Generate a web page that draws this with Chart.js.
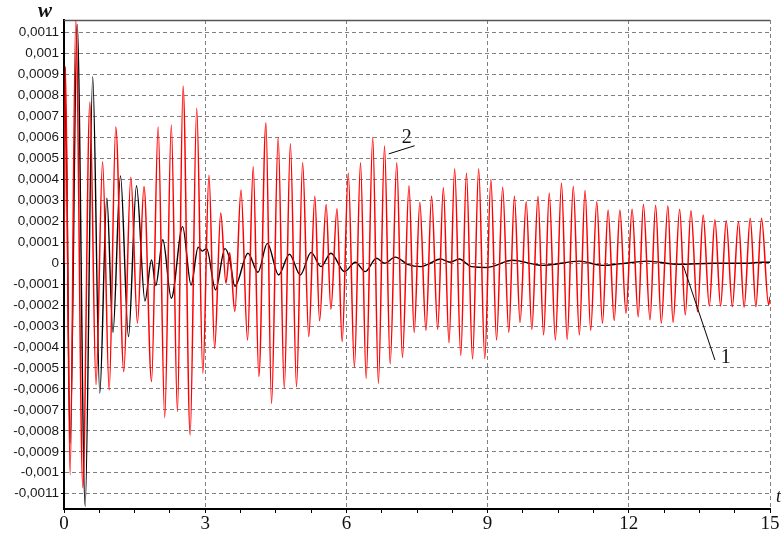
<!DOCTYPE html>
<html><head><meta charset="utf-8">
<script src="https://cdn.jsdelivr.net/npm/chart.js@4/dist/chart.umd.min.js"></script>
<style>html,body{margin:0;padding:0;background:#fff}#wrap{position:relative;width:781px;height:535px}</style>
</head><body><div id="wrap"><canvas id="c" width="781" height="535"></canvas></div>
<script>
// Series 2 (red): time of each extremum and value
const redT = [0,0.03,0.13,0.25,0.40,0.55,0.68,0.82,0.96,1.10,1.27,1.42,1.56,1.70,1.86,2.00,2.14,2.28,2.41,2.53,2.68,2.82,2.95,3.08,3.20,3.33,3.44,3.52,3.63,3.76,3.90,4.02,4.14,4.29,4.41,4.55,4.68,4.81,4.94,5.07,5.20,5.33,5.43,5.57,5.67,5.80,5.91,6.04,6.17,6.30,6.42,6.56,6.68,6.81,6.93,7.07,7.19,7.33,7.44,7.56,7.69,7.81,7.94,8.06,8.18,8.30,8.43,8.55,8.68,8.81,8.94,9.07,9.19,9.32,9.45,9.57,9.69,9.82,9.94,10.07,10.19,10.31,10.44,10.57,10.69,10.82,10.95,11.07,11.19,11.32,11.44,11.56,11.69,11.81,11.94,12.07,12.20,12.31,12.45,12.57,12.69,12.83,12.94,13.08,13.20,13.32,13.46,13.58,13.71,13.83,13.95,14.07,14.20,14.33,14.45,14.58,14.70,14.82,14.97,15.00];
const redW = [0,9.4e-4,-10.1e-4,11.6e-4,-10.7e-4,7.7e-4,-5.8e-4,4.85e-4,-6.05e-4,6.5e-4,-5.17e-4,4.1e-4,-2.85e-4,3.66e-4,-5.65e-4,6.5e-4,-7.37e-4,6.6e-4,-7.08e-4,8.46e-4,-8.2e-4,7.4e-4,-5.25e-4,4.2e-4,-4.06e-4,2.4e-4,-0.95e-4,0.5e-4,-2.3e-4,3.5e-4,-3.66e-4,4.6e-4,-5.4e-4,6.7e-4,-6.7e-4,6.0e-4,-5.97e-4,5.7e-4,-5.9e-4,4.8e-4,-3.5e-4,3.2e-4,-2.75e-4,2.8e-4,-2.2e-4,2.6e-4,-3.74e-4,4.3e-4,-4.96e-4,4.8e-4,-5.5e-4,6.0e-4,-5.73e-4,5.6e-4,-4.8e-4,4.8e-4,-4.5e-4,3.7e-4,-3.3e-4,2.9e-4,-3.2e-4,3.2e-4,-3.15e-4,3.6e-4,-3.8e-4,4.5e-4,-4.4e-4,4.3e-4,-4.57e-4,4.5e-4,-4.55e-4,4.0e-4,-3.66e-4,3.63e-4,-3.3e-4,3.2e-4,-2.83e-4,2.93e-4,-3.15e-4,3.18e-4,-3.42e-4,3.34e-4,-3.66e-4,3.82e-4,-3.63e-4,3.66e-4,-3.42e-4,3.47e-4,-3.2e-4,2.94e-4,-2.87e-4,2.54e-4,-2.74e-4,2.54e-4,-2.39e-4,2.58e-4,-2.55e-4,2.82e-4,-2.7e-4,2.77e-4,-2.87e-4,2.75e-4,-2.83e-4,2.58e-4,-2.47e-4,2.51e-4,-2.31e-4,2.3e-4,-2.04e-4,2.07e-4,-2.04e-4,2.03e-4,-2.07e-4,1.99e-4,-2.1e-4,2.15e-4,-2.07e-4,2.15e-4,-1.99e-4,-1.6e-4];
// Series 1 (black)
const blackT = [0,0.03,0.13,0.28,0.45,0.61,0.76,0.91,1.04,1.20,1.37,1.54,1.72,1.86,1.95,2.10,2.28,2.52,2.70,2.85,2.94,3.03,3.22,3.42,3.52,3.63,3.91,4.12,4.32,4.56,4.79,5.02,5.25,5.46,5.67,5.96,6.19,6.40,6.64,6.81,7.04,7.30,7.59,7.73,8.00,8.20,8.40,8.65,9.00,9.11,9.53,10.17,10.95,11.44,11.80,12.40,13.07,13.78,14.49,14.83,15.0];
const blackW = [0,8.0e-4,-8.6e-4,11.4e-4,-11.6e-4,8.9e-4,-6.2e-4,3.1e-4,-3.3e-4,4.17e-4,-3.5e-4,3.7e-4,-1.8e-4,0.16e-4,-1.06e-4,1.12e-4,-1.67e-4,1.75e-4,-1.04e-4,0.76e-4,0.58e-4,0.7e-4,-1.27e-4,0.7e-4,0.2e-4,-1.1e-4,0.48e-4,-0.43e-4,0.95e-4,-0.56e-4,0.43e-4,-0.56e-4,0.52e-4,-0.16e-4,0.48e-4,-0.4e-4,0.05e-4,-0.4e-4,0.24e-4,0,0.29e-4,-0.05e-4,-0.16e-4,-0.05e-4,0.2e-4,0.05e-4,0.2e-4,-0.16e-4,-0.2e-4,-0.15e-4,0.14e-4,-0.1e-4,0.1e-4,-0.1e-4,-0.03e-4,0.1e-4,-0.05e-4,0,0,0.05e-4,0.05e-4];
// Axis ticks
const yTickValues = [-0.0011,-0.001,-0.0009,-0.0008,-0.0007,-0.0006,-0.0005,-0.0004,-0.0003,-0.0002,-0.0001,0,0.0001,0.0002,0.0003,0.0004,0.0005,0.0006,0.0007,0.0008,0.0009,0.001,0.0011];
const xTickValues = [0,0.75,1.5,2.25,3,3.75,4.5,5.25,6,6.75,7.5,8.25,9,9.75,10.5,11.25,12,12.75,13.5,14.25,15];
const xLabelValues = [0,3,6,9,12,15];
const xGridValues = [3,6,9,12,15];
const yMin = -0.001173, yMax = 0.001161;
// Curve labels with leader lines (data coordinates)
const curveLabels = [
  {text:'2', t:7.28, w:0.000598, from:[6.90,0.000522], to:[7.45,0.000561]},
  {text:'1', t:14.06, w:-0.000449, from:[13.16,-0.000013], to:[13.83,-0.000462]}
];

const framePlugin = {
  id:'frame',
  beforeDatasetsDraw(chart){
    const {ctx, chartArea:a} = chart;
    ctx.save();
    ctx.strokeStyle='#555'; ctx.lineWidth=1.5;
    ctx.beginPath(); ctx.moveTo(a.left, a.top+0.5); ctx.lineTo(a.right, a.top+0.5); ctx.stroke();
    ctx.restore();
  },
  afterDraw(chart){
    const {ctx, scales:{x,y}} = chart;
    ctx.save();
    ctx.fillStyle='#111';
    ctx.font='italic bold 21px "Liberation Serif"';
    ctx.textAlign='center'; ctx.textBaseline='middle';
    ctx.fillText('w', 45, 12);
    ctx.font='italic 18px "Liberation Serif"';
    ctx.textAlign='left';
    ctx.fillText('t', 776, 497);
    ctx.font='20px "Liberation Serif"';
    ctx.strokeStyle='#000'; ctx.lineWidth=1;
    curveLabels.forEach(l=>{
      ctx.beginPath();
      ctx.moveTo(x.getPixelForValue(l.from[0]), y.getPixelForValue(l.from[1]));
      ctx.lineTo(x.getPixelForValue(l.to[0]), y.getPixelForValue(l.to[1]));
      ctx.stroke();
      ctx.fillText(l.text, x.getPixelForValue(l.t)-5, y.getPixelForValue(l.w));
    });
    ctx.restore();
  }
};

new Chart(document.getElementById('c').getContext('2d'), {
  type:'line',
  data:{datasets:[
    {label:'2', data: redT.map((t,i)=>({x:t,y:redW[i]})), borderColor:'#ff0000', borderWidth:1.5, pointRadius:0, cubicInterpolationMode:'monotone', order:0},
    {label:'1', data: blackT.map((t,i)=>({x:t,y:blackW[i]})), borderColor:'#000000', borderWidth:1.4, pointRadius:0, cubicInterpolationMode:'monotone', order:1}
  ]},
  options:{
    responsive:false, animation:false, devicePixelRatio:1,
    layout:{padding:{top:20,right:11,left:0,bottom:0}},
    plugins:{legend:{display:false}, tooltip:{enabled:false}},
    scales:{
      x:{type:'linear', min:0, max:15,
        afterBuildTicks:s=>{s.ticks = xTickValues.map(v=>({value:v}));},
        afterFit:s=>{s.height=26;},
        ticks:{autoSkip:false, maxRotation:0, padding:0, color:'#111', font:{family:'Liberation Serif', size:19},
          callback:v=> xLabelValues.includes(v) ? String(v) : ''},
        grid:{color:c=> (c.tick && xGridValues.includes(c.tick.value)) ? '#808080' : 'rgba(0,0,0,0)', lineWidth:1, tickColor:'#000', tickLength:4, tickWidth:1},
        border:{display:true, color:'#000', width:2, dash:[4,3]}
      },
      y:{min:yMin, max:yMax,
        afterBuildTicks:s=>{s.ticks = yTickValues.map(v=>({value:v}));},
        afterFit:s=>{s.width=64;},
        ticks:{autoSkip:false, padding:2, color:'#1a1a1a', font:{family:'Liberation Sans', size:13.5},
          callback:v=> String(v).replace('.', ',')},
        grid:{color:'#808080', lineWidth:1, tickColor:'#000', tickLength:3, tickWidth:1},
        border:{display:true, color:'#000', width:2, dash:[4,3]}
      }
    }
  },
  plugins:[framePlugin]
});
</script></body></html>
